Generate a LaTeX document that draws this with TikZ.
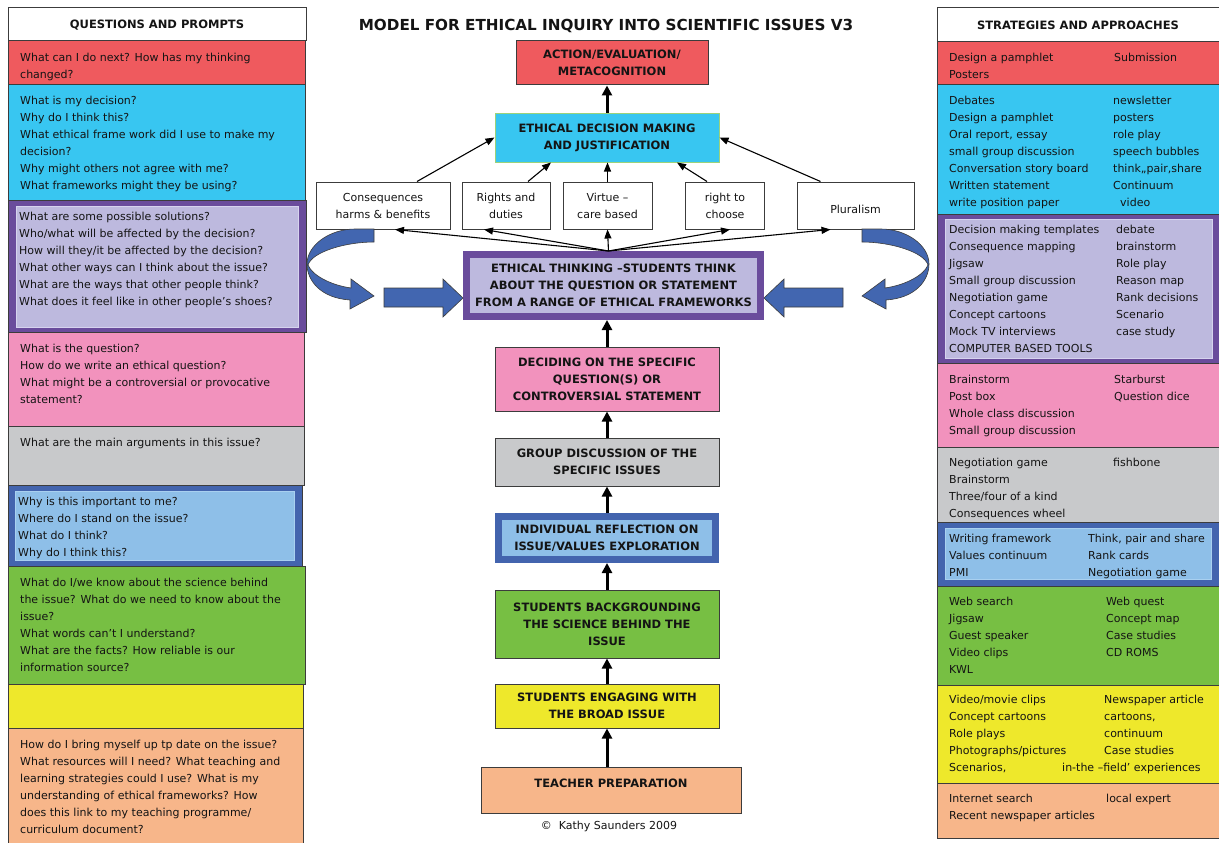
\documentclass[tikz,border=0pt]{standalone}
\usepackage{fontspec}
\setmainfont{DejaVu Sans}
\usetikzlibrary{arrows.meta}
\definecolor{ink}{HTML}{141414}
\definecolor{edge}{HTML}{3C3C3C}
\definecolor{actred}{HTML}{EF5A5E}
\definecolor{decblue}{HTML}{38C6F1}
\definecolor{decedge}{HTML}{9BD27A}
\definecolor{thinkpurple}{HTML}{6A4C9C}
\definecolor{thinklav}{HTML}{BDB9DE}
\definecolor{lavedge}{HTML}{D6D3EE}
\definecolor{qpink}{HTML}{F292BD}
\definecolor{discgrey}{HTML}{C8C9CB}
\definecolor{reflblue}{HTML}{4364AE}
\definecolor{refllight}{HTML}{8EBFE8}
\definecolor{refledge}{HTML}{A9D0F0}
\definecolor{scigreen}{HTML}{77BF43}
\definecolor{engyellow}{HTML}{EEE82B}
\definecolor{prepor}{HTML}{F7B68A}
\definecolor{arrowblue}{HTML}{4266B0}

\begin{document}
\begin{tikzpicture}[x=1pt,y=-1pt,font=\fontsize{11}{17}\selectfont,text=ink,
  panel/.style={draw=edge,line width=1pt},
  txt/.style={anchor=north west,yshift=8.2pt,align=left,inner sep=0pt},
  headtxt/.style={font=\bfseries\fontsize{11.5}{13}\selectfont},
  stage/.style={draw=edge,line width=1pt,minimum width=224pt,align=center,inner sep=0pt,
    font=\bfseries\fontsize{11.5}{17}\selectfont},
  fwbox/.style={draw=edge,fill=white,line width=1pt,align=center,inner sep=0pt,minimum height=47pt},
  linkarrow/.style={-{Triangle[length=9pt,width=7pt]},line width=1.1pt},
  flowarrow/.style={-{Triangle[length=10pt,width=10pt]},line width=3pt},
  band/.style={fill=arrowblue,draw=edge,line width=0.6pt}]
  \useasboundingbox (0,0) rectangle (1219,843);
  \path[fill=white] (0,0) rectangle (1219,843);

  % questions and prompts
  \draw[panel,fill=white] (8,8) rectangle (306,41);
  \node[headtxt] (qhead) at (157,25) {QUESTIONS AND PROMPTS};
  \draw[panel,fill=actred] (8,41) rectangle (305,85);
  \node[txt] (qact) at (20,61) {What can I do next? How has my thinking\\changed?};
  \draw[panel,fill=decblue] (8,85) rectangle (305,200);
  \node[txt] (qdec) at (20,104) {What is my decision?\\Why do I think this?\\What ethical frame work did I use to make my\\decision?\\Why might others not agree with me?\\What frameworks might they be using?};
  \draw[panel,fill=thinkpurple] (8,200) rectangle (306,332);
  \draw[fill=thinklav,draw=lavedge] (16,206) rectangle (298,327);
  \node[txt] (qthink) at (19,220) {What are some possible solutions?\\Who/what will be affected by the decision?\\How will they/it be affected by the decision?\\What other ways can I think about the issue?\\What are the ways that other people think?\\What does it feel like in other people’s shoes?};
  \draw[panel,fill=qpink] (8,332) rectangle (304,426);
  \node[txt] (qques) at (20,352) {What is the question?\\How do we write an ethical question?\\What might be a controversial or provocative\\statement?};
  \draw[panel,fill=discgrey] (8,426) rectangle (304,485);
  \node[txt] (qargs) at (20,446) {What are the main arguments in this issue?};
  \draw[panel,fill=reflblue] (8,485) rectangle (302,566);
  \draw[fill=refllight,draw=refledge] (15,491) rectangle (294,560);
  \node[txt] (qself) at (18,505) {Why is this important to me?\\Where do I stand on the issue?\\What do I think?\\Why do I think this?};
  \draw[panel,fill=scigreen] (8,566) rectangle (305,684);
  \node[txt] (qsci) at (20,586) {What do I/we know about the science behind\\the issue? What do we need to know about the\\issue?\\What words can’t I understand?\\What are the facts? How reliable is our\\information source?};
  \draw[panel,fill=engyellow] (8,684) rectangle (303,728);
  \draw[panel,fill=prepor] (8,728) rectangle (303,848);
  \node[txt] (qprep) at (20,748) {How do I bring myself up tp date on the issue?\\What resources will I need? What teaching and\\learning strategies could I use? What is my\\understanding of ethical frameworks? How\\does this link to my teaching programme/\\curriculum document?};

  % strategies and approaches
  \draw[panel,fill=white] (937,8) rectangle (1224,42);
  \node[headtxt] (shead) at (1078,25) {STRATEGIES AND APPROACHES};
  \draw[panel,fill=actred] (937,42) rectangle (1224,85);
  \node[txt] (sact) at (949,61) {Design a pamphlet\\Posters};
  \node[txt] (sact2) at (1114,61) {Submission};
  \draw[panel,fill=decblue] (937,85) rectangle (1224,214);
  \node[txt] (sdec) at (949,104) {Debates\\Design a pamphlet\\Oral report, essay\\small group discussion\\Conversation story board\\Written statement\\write position paper};
  \node[txt] (sdec2) at (1113,104) {newsletter\\posters\\role play\\speech bubbles\\think,,pair,share\\Continuum\\\hspace*{7pt}video};
  \draw[panel,fill=thinkpurple] (937,214) rectangle (1224,363);
  \draw[fill=thinklav,draw=lavedge] (945,219) rectangle (1212,358);
  \node[txt] (sthink) at (949,233) {Decision making templates\\Consequence mapping\\Jigsaw\\Small group discussion\\Negotiation game\\Concept cartoons\\Mock TV interviews\\COMPUTER BASED TOOLS};
  \node[txt] (sthink2) at (1116,233) {debate\\brainstorm\\Role play\\Reason map\\Rank decisions\\Scenario\\case study};
  \draw[panel,fill=qpink] (937,363) rectangle (1224,447);
  \node[txt] (sques) at (949,383) {Brainstorm\\Post box\\Whole class discussion\\Small group discussion};
  \node[txt] (sques2) at (1114,383) {Starburst\\Question dice};
  \draw[panel,fill=discgrey] (937,447) rectangle (1224,522);
  \node[txt] (sargs) at (949,466) {Negotiation game\\Brainstorm\\Three/four of a kind\\Consequences wheel};
  \node[txt] (sargs2) at (1113,466) {fishbone};
  \draw[panel,fill=reflblue] (937,522) rectangle (1224,586);
  \draw[fill=refllight,draw=refledge] (945,528) rectangle (1211,579);
  \node[txt] (sself) at (949,542) {Writing framework\\Values continuum\\PMI};
  \node[txt] (sself2) at (1088,542) {Think, pair and share\\Rank cards\\Negotiation game};
  \draw[panel,fill=scigreen] (937,586) rectangle (1224,685);
  \node[txt] (ssci) at (949,605) {Web search\\Jigsaw\\Guest speaker\\Video clips\\KWL};
  \node[txt] (ssci2) at (1106,605) {Web quest\\Concept map\\Case studies\\CD ROMS};
  \draw[panel,fill=engyellow] (937,685) rectangle (1224,783);
  \node[txt] (seng) at (949,703) {Video/movie clips\\Concept cartoons\\Role plays\\Photographs/pictures\\Scenarios,};
  \node[txt] (seng2) at (1104,703) {Newspaper article\\cartoons,\\continuum\\Case studies};
  \node[txt] (seng3) at (1062,771) {in-the –field’ experiences};
  \draw[panel,fill=prepor] (937,783) rectangle (1224,838);
  \node[txt] (sprep) at (949,802) {Internet search\\Recent newspaper articles};
  \node[txt] (sprep2) at (1106,802) {local expert};

  % model column
  \node[font=\bfseries\fontsize{15.2}{17}\selectfont] (title) at (606,26) {MODEL FOR ETHICAL INQUIRY INTO SCIENTIFIC ISSUES V3};
  \node[stage,fill=actred,minimum width=192pt,minimum height=44pt] (act) at (612,63) {ACTION/EVALUATION/\\METACOGNITION};
  \node[stage,fill=decblue,draw=decedge,minimum height=49pt] (dec) at (607,137.5) {ETHICAL DECISION MAKING\\AND JUSTIFICATION};
  \node[fwbox,minimum width=134pt] (cons) at (383,205.5) {Consequences\\harms \& benefits};
  \node[fwbox,minimum width=88pt] (rights) at (506,205.5) {Rights and\\duties};
  \node[fwbox,minimum width=89pt] (virt) at (607.5,205.5) {Virtue –\\care based};
  \node[fwbox,minimum width=79pt] (rtc) at (725,205.5) {right to\\choose};
  \node[fwbox,minimum width=117pt] (plur) at (855.5,205.5) {\mbox{}\\Pluralism};
  \node[stage,fill=thinklav,draw=thinkpurple,line width=7pt,minimum width=294pt,minimum height=62pt]
    (et) at (613.5,285.5) {ETHICAL THINKING –STUDENTS THINK\\ABOUT THE QUESTION OR STATEMENT\\FROM A RANGE OF ETHICAL FRAMEWORKS};
  \node[stage,fill=qpink,minimum height=64pt] (decide) at (607,379) {DECIDING ON THE SPECIFIC\\QUESTION(S) OR\\CONTROVERSIAL STATEMENT};
  \node[stage,fill=discgrey,minimum height=48pt] (group) at (607,462) {GROUP DISCUSSION OF THE\\SPECIFIC ISSUES};
  \node[stage,fill=refllight,draw=reflblue,line width=7pt,minimum width=217pt,minimum height=43pt]
    (refl) at (607,538) {INDIVIDUAL REFLECTION ON\\ISSUE/VALUES EXPLORATION};
  \node[stage,fill=scigreen,minimum height=68pt] (back) at (607,624) {STUDENTS BACKGROUNDING\\THE SCIENCE BEHIND THE\\ISSUE};
  \node[stage,fill=engyellow,minimum height=44pt] (eng) at (607,706) {STUDENTS ENGAGING WITH\\THE BROAD ISSUE};
  \node[stage,fill=prepor,minimum width=260pt,minimum height=46pt,text depth=14pt] (teach) at (611,790) {TEACHER PREPARATION};
  \node (copy) at (609,826) {©\ \ Kathy Saunders 2009};

  \draw[flowarrow] (dec.north) -- (dec.north |- act.south);
  \draw[flowarrow] (decide.north) -- (decide.north |- et.south);
  \draw[flowarrow] (group.north) -- (decide.south);
  \draw[flowarrow] (refl.north) -- (group.south);
  \draw[flowarrow] (back.north) -- (refl.south);
  \draw[flowarrow] (eng.north) -- (back.south);
  \draw[flowarrow] (eng.south |- teach.north) -- (eng.south);

  \coordinate (hub) at ([xshift=-5pt]et.north);
  \draw[linkarrow] (hub) -- ([xshift=12pt]cons.south);
  \draw[linkarrow] (hub) -- ([xshift=-22pt]rights.south);
  \draw[linkarrow] (hub) -- (virt.south);
  \draw[linkarrow] (hub) -- ([xshift=5pt]rtc.south);
  \draw[linkarrow] (hub) -- ([xshift=-25pt]plur.south);
  \draw[linkarrow] ([xshift=34pt]cons.north) -- (dec.west);
  \draw[linkarrow] ([xshift=22pt]rights.north) -- ([xshift=-56pt]dec.south);
  \draw[linkarrow] (virt.north) -- (virt.north |- dec.south);
  \draw[linkarrow] ([xshift=-18pt]rtc.north) -- ([xshift=70pt]dec.south);
  \draw[linkarrow] ([xshift=-35pt]plur.north) -- (dec.east);

  % block arrows into the thinking box
  \draw[band] (384,288) -- (443,288) -- (443,279) -- (463,298) -- (443,317) -- (443,307) -- (384,307) -- cycle;
  \draw[band] (355,229) .. controls (330,229) and (307,245) .. (307,264)
    .. controls (307,280) and (320,298) .. (350,300) -- (350,309) -- (374,296) -- (351,279) -- (351,288)
    .. controls (330,285) and (312,275) .. (308,265)
    .. controls (312,252) and (345,242) .. (374,242) -- (374,229) -- cycle;
  \begin{scope}[shift={(1227,0)},xscale=-1]
    \draw[band] (384,288) -- (443,288) -- (443,279) -- (463,298) -- (443,317) -- (443,307) -- (384,307) -- cycle;
  \end{scope}
  \begin{scope}[shift={(1236,0)},xscale=-1]
    \draw[band] (355,229) .. controls (330,229) and (307,245) .. (307,264)
      .. controls (307,280) and (320,298) .. (350,300) -- (350,309) -- (374,296) -- (351,279) -- (351,288)
      .. controls (330,285) and (312,275) .. (308,265)
      .. controls (312,252) and (345,242) .. (374,242) -- (374,229) -- cycle;
  \end{scope}
\end{tikzpicture}
\end{document}
